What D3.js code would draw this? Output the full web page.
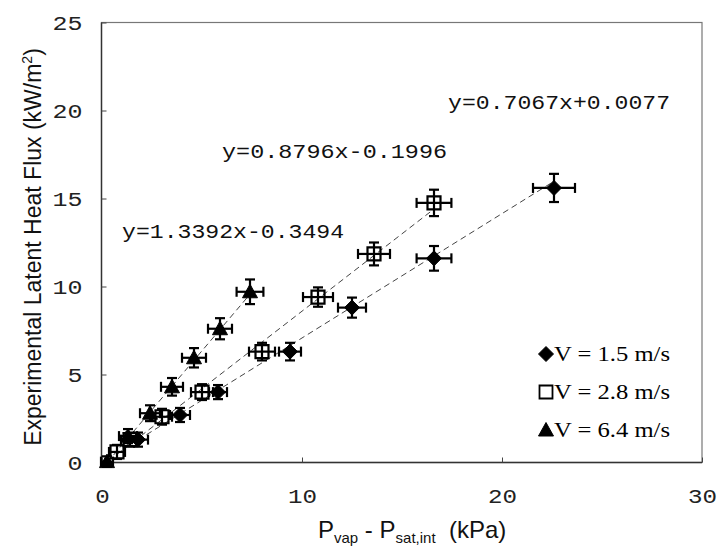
<!DOCTYPE html>
<html><head><meta charset="utf-8">
<script src="https://cdn.jsdelivr.net/npm/d3@7"></script>
<style>body{margin:0;background:#fff;} svg{display:block;}</style>
</head><body>
<svg id="c" width="718" height="546"></svg>
<script>
// ---- data ----
const xTicks = [0, 10, 20, 30];
const yTicks = [0, 5, 10, 15, 20, 25];
const seriesNames = ["V = 1.5 m/s", "V = 2.8 m/s", "V = 6.4 m/s"];
const seriesSymbols = ["diamond", "square", "triangle"];

const v15X = [1.8, 3.9, 5.8, 9.4, 12.5, 16.6, 22.6];
const v15Y = [1.3, 2.7, 4.0, 6.3, 8.8, 11.6, 15.6];
const v15XErr = [0.5, 0.5, 0.45, 0.55, 0.7, 0.87, 1.05];
const v15YErr = [0.4, 0.4, 0.4, 0.5, 0.57, 0.7, 0.8];

const v28X = [0.75, 1.4, 3.0, 5.0, 8.0, 10.8, 13.6, 16.6];
const v28Y = [0.6, 1.3, 2.6, 4.0, 6.3, 9.4, 11.85, 14.75];
const v28XErr = [0.4, 0.45, 0.5, 0.55, 0.65, 0.75, 0.8, 0.87];
const v28YErr = [0.4, 0.4, 0.45, 0.45, 0.5, 0.55, 0.65, 0.75];

const v64X = [0.25, 1.3, 2.4, 3.5, 4.6, 5.9, 7.4];
const v64Y = [0.05, 1.5, 2.8, 4.3, 5.95, 7.6, 9.7];
const v64XErr = [0.3, 0.45, 0.5, 0.55, 0.6, 0.6, 0.67];
const v64YErr = [0.3, 0.4, 0.45, 0.5, 0.55, 0.6, 0.7];

const fitSlopes = [0.7067, 0.8796, 1.3392];
const fitIntercepts = [0.0077, -0.1996, -0.3494];
const fitLabels = ["y=0.7067x+0.0077", "y=0.8796x-0.1996", "y=1.3392x-0.3494"];

const xTitle = ["P", "vap", " - ", "P", "sat,int", "  (kPa)"];
const yTitle = ["Experimental Latent Heat Flux (kW/m", "2", ")"];

// ---- chart ----
const svg = d3.select("#c");
const x = d3.scaleLinear().domain([0, 30]).range([102, 702]);
const y = d3.scaleLinear().domain([0, 25]).range([462.5, 22.5]);

const series = [
  {xs: v15X, ys: v15Y, ex: v15XErr, ey: v15YErr},
  {xs: v28X, ys: v28Y, ex: v28XErr, ey: v28YErr},
  {xs: v64X, ys: v64Y, ex: v64XErr, ey: v64YErr}
];

// frame
svg.append("rect").attr("x", x(0) - 0.5).attr("y", y(25)).attr("width", x(30) - x(0) + 0.5)
  .attr("height", y(0) - y(25)).attr("fill", "none").attr("stroke", "#777").attr("stroke-width", 1.2);
svg.append("line").attr("x1", x(0) - 0.5).attr("x2", x(0) - 0.5).attr("y1", y(25)).attr("y2", y(0))
  .attr("stroke", "#333").attr("stroke-width", 1.4);
svg.append("line").attr("x1", x(0) - 0.5).attr("x2", x(30)).attr("y1", y(0)).attr("y2", y(0))
  .attr("stroke", "#333").attr("stroke-width", 1.6);

// axes
const gx = svg.append("g").attr("transform", `translate(0,${y(0)})`)
  .call(d3.axisBottom(x).tickValues(xTicks).tickSize(-5).tickPadding(0).tickFormat(d3.format("d")));
gx.select(".domain").remove();
gx.selectAll(".tick line").attr("stroke", "#444");
gx.selectAll(".tick text").attr("y", 40).attr("dy", 0)
  .attr("font-family", "'Liberation Mono', monospace").attr("font-size", 21).attr("fill", "#222")
  .attr("textLength", d => String(d).length * 14.5).attr("lengthAdjust", "spacingAndGlyphs");

const gy = svg.append("g").attr("transform", `translate(${x(0) - 0.5},0)`)
  .call(d3.axisLeft(y).tickValues(yTicks).tickSize(-5).tickPadding(19).tickFormat(d3.format("d")));
gy.select(".domain").remove();
gy.selectAll(".tick line").attr("stroke", "#444");
gy.selectAll(".tick text").attr("dy", "0.34em")
  .attr("font-family", "'Liberation Mono', monospace").attr("font-size", 21).attr("fill", "#222")
  .attr("textLength", d => String(d).length * 15).attr("lengthAdjust", "spacingAndGlyphs");

// trendlines
series.forEach((s, i) => {
  const x0 = d3.min(s.xs), x1 = d3.max(s.xs);
  svg.append("line")
    .attr("x1", x(x0)).attr("y1", y(fitSlopes[i] * x0 + fitIntercepts[i]))
    .attr("x2", x(x1)).attr("y2", y(fitSlopes[i] * x1 + fitIntercepts[i]))
    .attr("stroke", "#444").attr("stroke-width", 1).attr("stroke-dasharray", "6,4");
});

// symbols
function symbolPath(type, cx, cy) {
  if (type === "diamond") return `M${cx},${cy - 7.5}L${cx + 7.5},${cy}L${cx},${cy + 7.5}L${cx - 7.5},${cy}Z`;
  if (type === "square") return `M${cx - 6.5},${cy - 6.5}h13v13h-13Z`;
  return `M${cx},${cy - 7.5}L${cx + 7.5},${cy + 6}L${cx - 7.5},${cy + 6}Z`;
}

series.forEach((s, i) => {
  const g = svg.append("g");
  const pts = s.xs.map((v, j) => ({x: v, y: s.ys[j], ex: s.ex[j], ey: s.ey[j]}));
  const eb = g.selectAll("g.eb").data(pts).enter().append("g").attr("stroke", "#000").attr("stroke-width", 2.2);
  eb.append("line").attr("x1", d => x(d.x - d.ex)).attr("x2", d => x(d.x + d.ex))
    .attr("y1", d => y(d.y)).attr("y2", d => y(d.y));
  eb.append("line").attr("x1", d => x(d.x)).attr("x2", d => x(d.x))
    .attr("y1", d => y(d.y - d.ey)).attr("y2", d => y(d.y + d.ey));
  eb.append("line").attr("x1", d => x(d.x - d.ex)).attr("x2", d => x(d.x - d.ex))
    .attr("y1", d => y(d.y) - 5).attr("y2", d => y(d.y) + 5);
  eb.append("line").attr("x1", d => x(d.x + d.ex)).attr("x2", d => x(d.x + d.ex))
    .attr("y1", d => y(d.y) - 5).attr("y2", d => y(d.y) + 5);
  eb.append("line").attr("x1", d => x(d.x) - 5).attr("x2", d => x(d.x) + 5)
    .attr("y1", d => y(d.y - d.ey)).attr("y2", d => y(d.y - d.ey));
  eb.append("line").attr("x1", d => x(d.x) - 5).attr("x2", d => x(d.x) + 5)
    .attr("y1", d => y(d.y + d.ey)).attr("y2", d => y(d.y + d.ey));
  const type = seriesSymbols[i];
  g.selectAll("path.m").data(pts).enter().append("path")
    .attr("d", d => symbolPath(type, x(d.x), y(d.y)))
    .attr("fill", type === "square" ? "none" : "#000")
    .attr("stroke", "#000").attr("stroke-width", type === "square" ? 2.2 : 1);
});

// fit equations
const eqPos = [[448, 109, 222], [222, 158, 225], [122, 238, 222]];
fitLabels.forEach((t, i) => {
  svg.append("text").attr("x", eqPos[i][0]).attr("y", eqPos[i][1])
    .attr("font-family", "'Liberation Mono', monospace").attr("font-size", 20).attr("fill", "#111")
    .attr("textLength", eqPos[i][2]).attr("lengthAdjust", "spacingAndGlyphs").text(t);
});

// legend
const legY = [354, 392, 430];
seriesNames.forEach((n, i) => {
  svg.append("path").attr("d", symbolPath(seriesSymbols[i], 546, legY[i]))
    .attr("fill", seriesSymbols[i] === "square" ? "none" : "#000").attr("stroke", "#000")
    .attr("stroke-width", seriesSymbols[i] === "square" ? 1.8 : 1);
  svg.append("text").attr("x", 554).attr("y", legY[i] + 7)
    .attr("font-family", "'Liberation Serif', serif").attr("font-size", 21).attr("fill", "#000")
    .attr("textLength", 116).attr("lengthAdjust", "spacingAndGlyphs").text(n);
});

// axis titles
const xt = svg.append("text").attr("x", 318).attr("y", 538)
  .attr("font-family", "'Liberation Sans', Arial, sans-serif").attr("font-size", 24).attr("fill", "#111")
  .style("white-space", "pre");
xt.append("tspan").text(xTitle[0]);
xt.append("tspan").attr("font-size", 15).attr("dy", 5).text(xTitle[1]);
xt.append("tspan").attr("dy", -5).text(xTitle[2]);
xt.append("tspan").text(xTitle[3]);
xt.append("tspan").attr("font-size", 15).attr("dy", 5).text(xTitle[4]);
xt.append("tspan").attr("dy", -5).text(xTitle[5]);

const yt = svg.append("text").attr("transform", "translate(41,247) rotate(-90)").attr("text-anchor", "middle")
  .attr("font-family", "'Liberation Sans', Arial, sans-serif").attr("font-size", 23).attr("fill", "#111");
yt.append("tspan").text(yTitle[0]);
yt.append("tspan").attr("font-size", 14).attr("dy", -9).text(yTitle[1]);
yt.append("tspan").attr("dy", 9).text(yTitle[2]);
</script>
</body></html>
